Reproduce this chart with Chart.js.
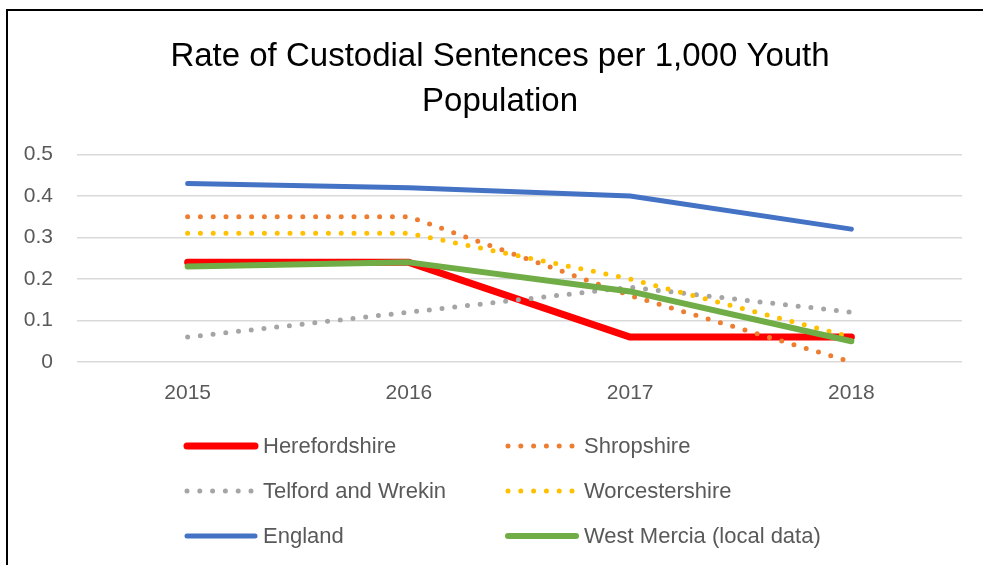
<!DOCTYPE html>
<html>
<head>
<meta charset="utf-8">
<script src="https://cdn.jsdelivr.net/npm/chart.js@4"></script>
<style>
  body { margin: 0; overflow: hidden; background: #fff; }
  #frame { position: absolute; left: 6px; top: 9px; width: 1100px; height: 700px; border: 2px solid #000; }
  #chart { position: absolute; left: 0; top: 0; }
</style>
</head>
<body>
<div id="frame"></div>
<canvas id="chart" width="1000" height="565"></canvas>
<script>
// data
const years = ["2015", "2016", "2017", "2018"];
const herefordshire = [0.24, 0.24, 0.06, 0.06];
const shropshire = [0.35, 0.35, 0.16, 0.0];
const telford = [0.06, 0.12, 0.18, 0.12];
const worcestershire = [0.31, 0.31, 0.2, 0.06];
const england = [0.43, 0.42, 0.40, 0.32];
const westMercia = [0.23, 0.24, 0.17, 0.05];
const yTicks = [0, 0.1, 0.2, 0.3, 0.4, 0.5];

const DOTS = [0, 12.8];

function series(label, data, color, width, dotted, order) {
    return {
        label: label,
        data: data,
        borderColor: color,
        backgroundColor: color,
        borderWidth: width,
        borderDash: dotted ? DOTS : [],
        borderCapStyle: "round",
        borderJoinStyle: "round",
        pointRadius: 0,
        tension: 0,
        order: order,
        dotted: dotted
    };
}

// custom legend: two columns, three rows under the plot
const legendRows = [446, 491, 536];
const legendCols = [187, 508];
const legendPlugin = {
    id: "twoColLegend",
    afterDraw(chart) {
        const ctx = chart.ctx;
        chart.data.datasets.forEach((ds, i) => {
            const x = legendCols[i % 2];
            const y = legendRows[Math.floor(i / 2)];
            ctx.save();
            ctx.strokeStyle = ds.borderColor;
            ctx.lineCap = "round";
            ctx.lineWidth = ds.dotted ? 5 : ds.borderWidth;
            ctx.setLineDash(ds.dotted ? DOTS : []);
            ctx.beginPath();
            ctx.moveTo(x, y);
            ctx.lineTo(x + (ds.dotted ? 64.5 : 68), y);
            ctx.stroke();
            ctx.setLineDash([]);
            ctx.fillStyle = "#595959";
            ctx.font = "22px 'Liberation Sans'";
            ctx.textBaseline = "middle";
            ctx.fillText(ds.label, x + 76, y + 1);
            ctx.restore();
        });
    }
};

const ctx = document.getElementById("chart").getContext("2d");
new Chart(ctx, {
    type: "line",
    data: {
        labels: years,
        datasets: [
            series("Herefordshire", herefordshire, "#FF0000", 7, false, 6),
            series("Shropshire", shropshire, "#ED7D31", 5, true, 5),
            series("Telford and Wrekin", telford, "#A5A5A5", 5, true, 4),
            series("Worcestershire", worcestershire, "#FFC000", 5, true, 3),
            series("England", england, "#4472C4", 5, false, 2),
            series("West Mercia (local data)", westMercia, "#70AD47", 6, false, 1)
        ]
    },
    options: {
        responsive: false,
        animation: false,
        devicePixelRatio: 1,
        layout: { padding: { top: 24, left: 0, right: 0, bottom: 153 } },
        plugins: {
            legend: { display: false },
            tooltip: { enabled: false },
            title: {
                display: true,
                text: ["Rate of Custodial Sentences per 1,000 Youth", "Population"],
                color: "#000",
                font: { family: "'Liberation Sans'", size: 33, weight: "normal", lineHeight: 1.37 },
                padding: { top: 10, bottom: 30 }
            }
        },
        scales: {
            x: {
                offset: true,
                grid: { display: false, drawTicks: false },
                border: { display: false },
                ticks: { color: "#595959", padding: 19, font: { family: "'Liberation Sans'", size: 21 } },
                afterFit: s => { s.height = 50; }
            },
            y: {
                min: 0,
                max: 0.5,
                afterBuildTicks: s => { s.ticks = yTicks.map(v => ({ value: v })); },
                grid: { color: "#D9D9D9", lineWidth: 1.5, drawTicks: false },
                border: { display: false },
                ticks: {
                    color: "#595959",
                    padding: 24,
                    font: { family: "'Liberation Sans'", size: 21 },
                    callback: v => String(v)
                },
                afterFit: s => { s.width = 77; }
            },
            // empty right-hand margin so the title centres like the original
            yRight: {
                type: "linear",
                position: "right",
                grid: { display: false, drawTicks: false },
                border: { display: false },
                ticks: { display: false },
                afterFit: s => { s.width = 38; }
            }
        }
    },
    plugins: [legendPlugin]
});
</script>
</body>
</html>
